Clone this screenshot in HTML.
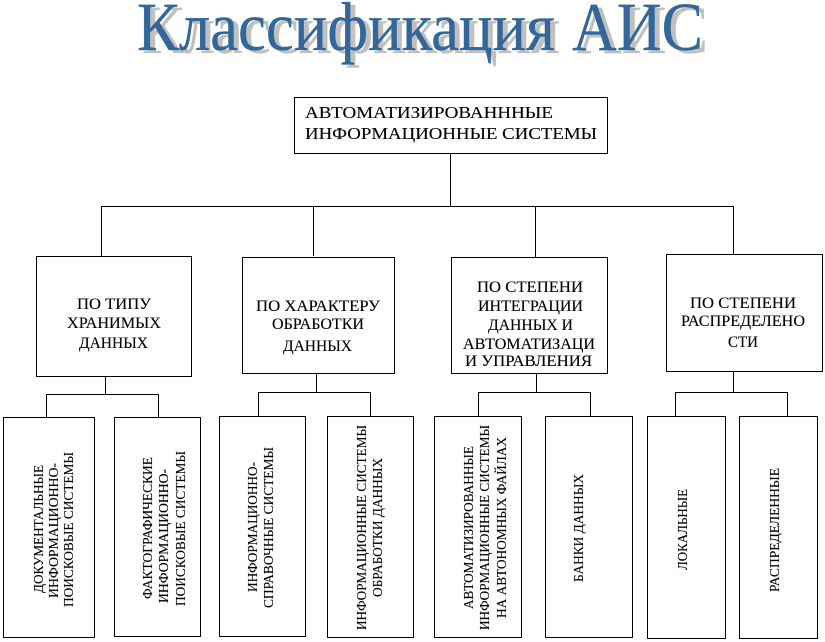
<!DOCTYPE html>
<html>
<head>
<meta charset="utf-8">
<style>
html,body{margin:0;padding:0;background:#fff;width:825px;height:642px;overflow:hidden}
svg{display:block}
text{font-family:"Liberation Serif","Noto Serif CJK SC",serif;fill:#000;stroke:#000;stroke-width:.12px}
.h{font-size:15.5px}
.r{font-size:16.5px}
.v{font-size:14px}
.t{font-size:69px;stroke-width:.3px}
rect,line{stroke:#000;stroke-width:1;shape-rendering:crispEdges}
rect{fill:#fff}
</style>
</head>
<body>
<svg xmlns="http://www.w3.org/2000/svg" width="825" height="642" viewBox="0 0 825 642">
<g style="--c:#c0c0c0">
<text class="t" x="142" y="53" textLength="418" lengthAdjust="spacingAndGlyphs" style="fill:#c0c0c0;stroke:#c0c0c0">Классификация</text>
<text class="t" x="577" y="53" textLength="131" lengthAdjust="spacingAndGlyphs" style="fill:#c0c0c0;stroke:#c0c0c0">АИС</text>
</g>
<text class="t" x="137" y="50" textLength="418" lengthAdjust="spacingAndGlyphs" style="fill:#336699;stroke:#336699">Классификация</text>
<text class="t" x="572" y="50" textLength="131" lengthAdjust="spacingAndGlyphs" style="fill:#336699;stroke:#336699">АИС</text>

<line x1="450.5" y1="153" x2="450.5" y2="206"/>
<line x1="101.5" y1="206.5" x2="734" y2="206.5"/>
<line x1="101.5" y1="206" x2="101.5" y2="256"/>
<line x1="313.5" y1="206" x2="313.5" y2="256"/>
<line x1="535.5" y1="206" x2="535.5" y2="257"/>
<line x1="733.5" y1="206" x2="733.5" y2="254"/>

<line x1="105.5" y1="376" x2="105.5" y2="394"/>
<line x1="46" y1="394.5" x2="159" y2="394.5"/>
<line x1="46.5" y1="394" x2="46.5" y2="417"/>
<line x1="158.5" y1="394" x2="158.5" y2="417"/>

<line x1="316.5" y1="373" x2="316.5" y2="392"/>
<line x1="258" y1="392.5" x2="371" y2="392.5"/>
<line x1="258.5" y1="392" x2="258.5" y2="416"/>
<line x1="370.5" y1="392" x2="370.5" y2="416"/>

<line x1="536.5" y1="373" x2="536.5" y2="392"/>
<line x1="478" y1="392.5" x2="591" y2="392.5"/>
<line x1="478.5" y1="392" x2="478.5" y2="416"/>
<line x1="590.5" y1="392" x2="590.5" y2="416"/>

<line x1="733.5" y1="371" x2="733.5" y2="392"/>
<line x1="675" y1="392.5" x2="788" y2="392.5"/>
<line x1="675.5" y1="392" x2="675.5" y2="416"/>
<line x1="787.5" y1="392" x2="787.5" y2="416"/>

<rect x="294.5" y="97.5" width="313" height="56"/>
<rect x="36.5" y="256.5" width="155" height="120"/>
<rect x="242.5" y="257.5" width="152" height="116"/>
<rect x="451.5" y="257.5" width="156" height="116"/>
<rect x="666.5" y="254.5" width="156" height="117"/>

<rect x="3.5" y="417.5" width="91" height="220"/>
<rect x="114.5" y="417.5" width="86" height="219"/>
<rect x="219.5" y="416.5" width="86" height="220"/>
<rect x="327.5" y="416.5" width="86" height="221"/>
<rect x="434.5" y="416.5" width="87" height="221"/>
<rect x="545.5" y="416.5" width="87" height="221"/>
<rect x="647.5" y="416.5" width="78" height="222"/>
<rect x="739.5" y="416.5" width="78" height="222"/>

<text class="r" x="305" y="118" textLength="248" lengthAdjust="spacingAndGlyphs">АВТОМАТИЗИРОВАНННЫЕ</text>
<text class="r" x="305" y="139" textLength="292" lengthAdjust="spacingAndGlyphs">ИНФОРМАЦИОННЫЕ СИСТЕМЫ</text>

<text class="h" x="77" y="309" textLength="74" lengthAdjust="spacingAndGlyphs">ПО  ТИПУ</text>
<text class="h" x="67" y="328" textLength="94" lengthAdjust="spacingAndGlyphs">ХРАНИМЫХ</text>
<text class="h" x="79" y="348" textLength="69" lengthAdjust="spacingAndGlyphs">ДАННЫХ</text>

<text class="h" x="256" y="311" textLength="124" lengthAdjust="spacingAndGlyphs">ПО ХАРАКТЕРУ</text>
<text class="h" x="272" y="329" textLength="92" lengthAdjust="spacingAndGlyphs">ОБРАБОТКИ</text>
<text class="h" x="283" y="351" textLength="69" lengthAdjust="spacingAndGlyphs">ДАННЫХ</text>

<text class="h" x="477" y="292" textLength="106" lengthAdjust="spacingAndGlyphs">ПО СТЕПЕНИ</text>
<text class="h" x="478" y="311" textLength="105" lengthAdjust="spacingAndGlyphs">ИНТЕГРАЦИИ</text>
<text class="h" x="488" y="330" textLength="85" lengthAdjust="spacingAndGlyphs">ДАННЫХ И</text>
<text class="h" x="463" y="349" textLength="132" lengthAdjust="spacingAndGlyphs">АВТОМАТИЗАЦИ</text>
<text class="h" x="465" y="366" textLength="127" lengthAdjust="spacingAndGlyphs">И УПРАВЛЕНИЯ</text>

<text class="h" x="690" y="308" textLength="106" lengthAdjust="spacingAndGlyphs">ПО СТЕПЕНИ</text>
<text class="h" x="681" y="326" textLength="124" lengthAdjust="spacingAndGlyphs">РАСПРЕДЕЛЕНО</text>
<text class="h" x="728" y="347" textLength="30" lengthAdjust="spacingAndGlyphs">СТИ</text>

<text class="v" transform="translate(43 593) rotate(-90)" textLength="128" lengthAdjust="spacingAndGlyphs">ДОКУМЕНТАЛЬНЫЕ</text>
<text class="v" transform="translate(58 598) rotate(-90)" textLength="135" lengthAdjust="spacingAndGlyphs">ИНФОРМАЦИОННО-</text>
<text class="v" transform="translate(73 607) rotate(-90)" textLength="155" lengthAdjust="spacingAndGlyphs">ПОИСКОВЫЕ СИСТЕМЫ</text>

<text class="v" transform="translate(152 599) rotate(-90)" textLength="142" lengthAdjust="spacingAndGlyphs">ФАКТОГРАФИЧЕСКИЕ</text>
<text class="v" transform="translate(168 603) rotate(-90)" textLength="134" lengthAdjust="spacingAndGlyphs">ИНФОРМАЦИОННО-</text>
<text class="v" transform="translate(185 606) rotate(-90)" textLength="155" lengthAdjust="spacingAndGlyphs">ПОИСКОВЫЕ СИСТЕМЫ</text>

<text class="v" transform="translate(257 592) rotate(-90)" textLength="130" lengthAdjust="spacingAndGlyphs">ИНФОРМАЦИОННО-</text>
<text class="v" transform="translate(273 608) rotate(-90)" textLength="161" lengthAdjust="spacingAndGlyphs">СПРАВОЧНЫЕ СИСТЕМЫ</text>

<text class="v" transform="translate(366 630) rotate(-90)" textLength="205" lengthAdjust="spacingAndGlyphs">ИНФОРМАЦИОННЫЕ СИСТЕМЫ</text>
<text class="v" transform="translate(382 597) rotate(-90)" textLength="139" lengthAdjust="spacingAndGlyphs">ОБРАБОТКИ ДАННЫХ</text>

<text class="v" transform="translate(473 609) rotate(-90)" textLength="163" lengthAdjust="spacingAndGlyphs">АВТОМАТИЗИРОВАННЫЕ</text>
<text class="v" transform="translate(489 630) rotate(-90)" textLength="205" lengthAdjust="spacingAndGlyphs">ИНФОРМАЦИОННЫЕ СИСТЕМЫ</text>
<text class="v" transform="translate(506 618) rotate(-90)" textLength="181" lengthAdjust="spacingAndGlyphs">НА АВТОНОМНЫХ ФАЙЛАХ</text>

<text class="v" transform="translate(583 582) rotate(-90)" textLength="108" lengthAdjust="spacingAndGlyphs">БАНКИ ДАННЫХ</text>
<text class="v" transform="translate(687 570) rotate(-90)" textLength="81" lengthAdjust="spacingAndGlyphs">ЛОКАЛЬНЫЕ</text>
<text class="v" transform="translate(779 592) rotate(-90)" textLength="124" lengthAdjust="spacingAndGlyphs">РАСПРЕДЕЛЕННЫЕ</text>
</svg>
</body>
</html>
